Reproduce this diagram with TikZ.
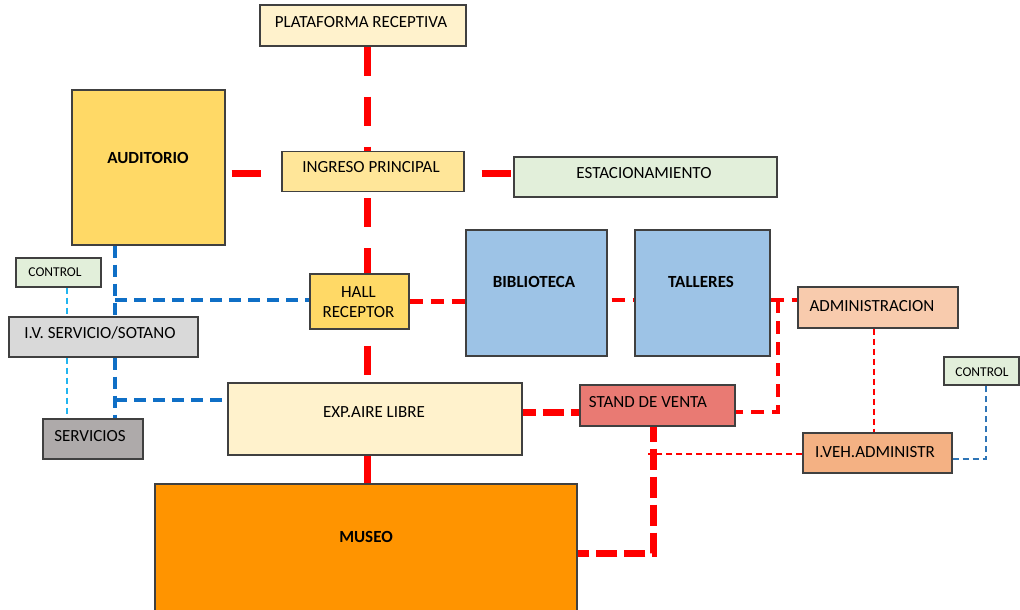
\documentclass[tikz,border=0pt]{standalone}
\usepackage{fontspec}
\setmainfont{Carlito}
\usetikzlibrary{backgrounds,calc}
\definecolor{bordc}{HTML}{404040}
\definecolor{cPlat}{HTML}{FFF2CC}
\definecolor{cAud}{HTML}{FFD966}
\definecolor{cIng}{HTML}{FFE699}
\definecolor{cGreen}{HTML}{E2EFDA}
\definecolor{cIV}{HTML}{D9D9D9}
\definecolor{cServ}{HTML}{AEAAAA}
\definecolor{cBlue}{HTML}{9DC3E6}
\definecolor{cAdm}{HTML}{F8CBAD}
\definecolor{cStand}{HTML}{E97A73}
\definecolor{cIveh}{HTML}{F4B183}
\definecolor{cMuseo}{HTML}{FF9400}
\definecolor{lnRed}{HTML}{FF0000}
\definecolor{lnBlue}{HTML}{0F6FC6}
\definecolor{lnSky}{HTML}{22B5F0}
\definecolor{lnBlue2}{HTML}{2E75B6}
\tikzset{
  box/.style={draw=bordc, line width=1.1pt, inner sep=0pt},
  lbl/.style={font=\fontsize{17}{20}\selectfont, inner sep=0pt, text height=10.95pt, text depth=0pt},
  lblb/.style={lbl, font=\fontsize{17}{20}\selectfont\bfseries},
  lbls/.style={font=\fontsize{13.5}{16}\selectfont, inner sep=0pt, text height=8.7pt, text depth=0pt},
  redthick/.style={draw=lnRed, line width=7pt, dash pattern=on 29pt off 21pt},
  redshort/.style={draw=lnRed, line width=7pt, dash pattern=on 21pt off 7pt},
  redmed/.style={draw=lnRed, line width=4.5pt, dash pattern=on 13pt off 8pt},
  redthin/.style={draw=lnRed, line width=2pt, dash pattern=on 6pt off 4pt},
  bluemed/.style={draw=lnBlue, line width=3.5pt, dash pattern=on 12pt off 7pt},
  skythin/.style={draw=lnSky, line width=2pt, dash pattern=on 6pt off 4pt},
  bluethin/.style={draw=lnBlue2, line width=2pt, dash pattern=on 6pt off 4pt},
}
\begin{document}
\begin{tikzpicture}[x=1pt,y=-1pt]
\useasboundingbox (0,0) rectangle (1020,610);
% boxes
\node[box, fill=cPlat, minimum width=206pt, minimum height=41pt] (plat) at (363,25.5) {};
\node[box, fill=cAud, minimum width=153pt, minimum height=155pt] (aud) at (148.5,167.5) {};
\node[box, fill=cIng, minimum width=182pt, minimum height=40pt] (ing) at (373,171.5) {};
\node[box, fill=cGreen, minimum width=263pt, minimum height=40pt] (est) at (645.5,177) {};
\node[box, fill=cGreen, minimum width=85pt, minimum height=29pt] (ctla) at (58.5,272.5) {};
\node[box, fill=cIV, minimum width=189pt, minimum height=40pt] (iv) at (103.5,337) {};
\node[box, fill=cServ, minimum width=100pt, minimum height=40pt] (serv) at (93,439) {};
\node[box, fill=cAud, minimum width=99pt, minimum height=55pt] (hall) at (359.5,301.5) {};
\node[box, fill=cBlue, minimum width=141pt, minimum height=126pt] (bib) at (536.5,293) {};
\node[box, fill=cBlue, minimum width=135pt, minimum height=126pt] (tal) at (702.5,293) {};
\node[box, fill=cAdm, minimum width=160pt, minimum height=41pt] (adm) at (878,307.5) {};
\node[box, fill=cStand, minimum width=155pt, minimum height=41pt] (stand) at (657.5,405.5) {};
\node[box, fill=cPlat, minimum width=294pt, minimum height=72pt] (exp) at (375,419) {};
\node[box, fill=cIveh, minimum width=149pt, minimum height=40pt] (iveh) at (877.5,453) {};
\node[box, fill=cGreen, minimum width=75pt, minimum height=28pt] (ctlb) at (981.5,371) {};
\node[box, fill=cMuseo, minimum width=422pt, minimum height=128pt] (museo) at (366,548) {};
% labels
\node[lbl] at (361,22) {PLATAFORMA RECEPTIVA};
\node[lblb] at (148,158) {AUDITORIO};
\node[lbl] at (371,167) {INGRESO PRINCIPAL};
\node[lbl] at (644,173) {ESTACIONAMIENTO};
\node[lbls] at (55,272) {CONTROL};
\node[lbl] at (100,333) {I.V. SERVICIO/SOTANO};
\node[lbl] at (90,436) {SERVICIOS};
\node[font=\fontsize{17}{20}\selectfont, inner sep=0pt, align=center] at (358.5,302) {HALL\\RECEPTOR};
\node[lblb] at (534,282) {BIBLIOTECA};
\node[lblb] at (701,282) {TALLERES};
\node[lbl] at (872,306) {ADMINISTRACION};
\node[lbl] at (648,402) {STAND DE VENTA};
\node[lbl] at (374,412) {EXP.AIRE LIBRE};
\node[lbl] at (875,452) {I.VEH.ADMINISTR};
\node[lbls] at (982,372) {CONTROL};
\node[lblb] at (366,537) {MUSEO};
% junction coordinates
\coordinate (spine) at (367,0);
\coordinate (bx) at (115,0);
\coordinate (sx) at (67,0);
\coordinate (jb1) at (115,300);
\coordinate (jb2) at (115,400);
\coordinate (jr1) at (778,300);
\coordinate (jr2) at (778,412);
\coordinate (jt) at (648,454);
\coordinate (jc) at (986,459);
\begin{pgfonlayer}{background}
% thick red spine
\draw[redthick] (plat.south -| spine) -- (ing.north -| spine);
\draw[redthick, dash phase=44pt] (ing.south -| spine) -- (hall.north -| spine);
\draw[redthick, dash phase=34pt] (hall.south -| spine) -- (exp.north -| spine);
\draw[redthick] (exp.south -| spine) -- (museo.north -| spine);
\draw[redthick, dash phase=44pt] ([yshift=-1.5pt]ing.west -| aud.east) -- ([yshift=-1.5pt]ing.west);
\draw[redthick, dash phase=33pt] ([yshift=-2pt]ing.east) -- ([yshift=-2pt]ing.east -| est.west);
\draw[redshort, dash phase=8pt] ([yshift=7pt]exp.east) -- ([yshift=7pt]exp.east -| stand.west);
\draw[redshort, dash phase=6pt] ([xshift=-4.5pt]stand.south) |- ([yshift=-5pt]museo.east);
% medium red
\draw[redmed] (hall.east) -- (hall.east -| bib.west);
\draw[redmed, dash phase=-4pt] (jr1 -| bib.east) -- (jr1 -| tal.west);
\draw[redmed] (jr1 -| tal.east) -- (jr1 -| adm.west);
\draw[redmed] (jr1) |- (jr2 -| stand.east);
% thin red
\draw[redthin] ([xshift=-4pt]adm.south) -- ([xshift=-4pt]adm.south |- iveh.north);
\draw[redthin] (jt -| iveh.west) -- (jt);
% blue
\draw[bluemed] (aud.south -| bx) -- (iv.north -| bx);
\draw[bluemed] (jb1) -- (jb1 -| hall.west);
\draw[bluemed] (iv.south -| bx) -- (serv.north -| bx);
\draw[bluemed] (jb2) -- (jb2 -| exp.west);
\draw[skythin] (ctla.south -| sx) -- (iv.north -| sx);
\draw[skythin] (iv.south -| sx) -- (serv.north -| sx);
\draw[bluethin] (jc -| iveh.east) -| (jc |- ctlb.south);
\end{pgfonlayer}
\end{tikzpicture}
\end{document}
